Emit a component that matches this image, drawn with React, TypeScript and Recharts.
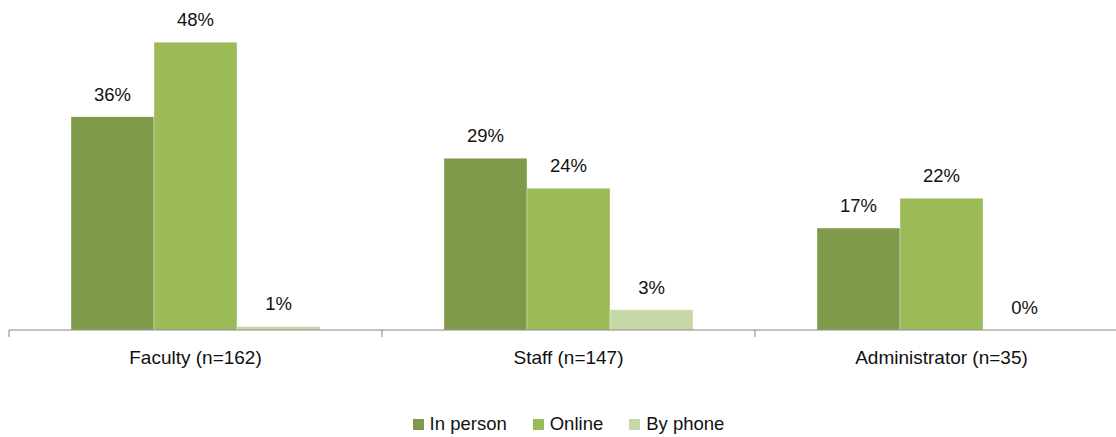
import React from 'react';
import { BarChart, Bar, XAxis, YAxis, Legend } from 'recharts';

const categories = ['Faculty (n=162)', 'Staff (n=147)', 'Administrator (n=35)'];
const inPerson = [35.8, 28.8, 17.1];
const online = [48.3, 23.8, 22.1];
const byPhone = [0.6, 3.4, 0];

const seriesNames = ['In person', 'Online', 'By phone'];
const seriesColors = ['#7F9A48', '#9BBB59', '#C6D7A8'];

const data = categories.map((name, i) => ({
  name,
  inPerson: inPerson[i],
  online: online[i],
  byPhone: byPhone[i]
}));

const CHART_W = 1140;
const CHART_H = 437;
const margin = { top: 32, right: 12, left: 9, bottom: 0 };
const band = (CHART_W - margin.left - margin.right) / categories.length;
const font = '"Liberation Sans", Arial, sans-serif';

const CategoryTick = (props: any) => {
  const { x, y, payload, index } = props;
  const left = x - band / 2;
  return (
    <g>
      <line x1={left} x2={left} y1={y} y2={y + 7} stroke="#868686" />
      {index === categories.length - 1 && (
        <line x1={x + band / 2} x2={x + band / 2} y1={y} y2={y + 7} stroke="#868686" />
      )}
      <text x={x} y={y + 34} textAnchor="middle" fontSize={19} fill="#111" fontFamily={font}>
        {payload.value}
      </text>
    </g>
  );
};

const LegendContent = () => (
  <div style={{ display: 'flex', justifyContent: 'center', gap: 26, fontFamily: font, fontSize: 18.5, color: '#111', paddingTop: 4 }}>
    {seriesNames.map((n, i) => (
      <div key={n} style={{ display: 'flex', alignItems: 'center' }}>
        <span style={{ width: 11, height: 11, background: seriesColors[i], marginRight: 6, display: 'inline-block' }} />
        <span>{n}</span>
      </div>
    ))}
  </div>
);

// value label above each bar
const TopLabel = (props: any) => {
  const { x, y, width, value } = props;
  return (
    <text x={x + width / 2} y={y - 16} textAnchor="middle" fontSize={18.5} fill="#111" fontFamily={font}>
      {`${Math.round(Number(value))}%`}
    </text>
  );
};

export default function App() {
  return (
    <div style={{ position: 'absolute', left: 0, top: 0, width: 1116, height: 437, overflow: 'hidden', background: '#fff' }}>
      <BarChart width={CHART_W} height={CHART_H} data={data} margin={margin} barCategoryGap={62} barGap={0}>
        <XAxis
          dataKey="name"
          axisLine={{ stroke: '#868686' }}
          tickLine={false}
          tickSize={0}
          tickMargin={0}
          tick={<CategoryTick />}
          height={79}
          interval={0}
        />
        <YAxis hide domain={[0, 50]} />
        <Legend verticalAlign="bottom" height={28} content={<LegendContent />} />
        <Bar dataKey="inPerson" name={seriesNames[0]} fill={seriesColors[0]} stroke="#ffffff" strokeOpacity={0.35} isAnimationActive={false} label={<TopLabel />} />
        <Bar dataKey="online" name={seriesNames[1]} fill={seriesColors[1]} stroke="#ffffff" strokeOpacity={0.35} isAnimationActive={false} label={<TopLabel />} />
        {/* tiny minPointSize so the 0% bar still gets its label */}
        <Bar dataKey="byPhone" name={seriesNames[2]} fill={seriesColors[2]} stroke="#ffffff" strokeOpacity={0.35} minPointSize={0.01} isAnimationActive={false} label={<TopLabel />} />
      </BarChart>
    </div>
  );
}
